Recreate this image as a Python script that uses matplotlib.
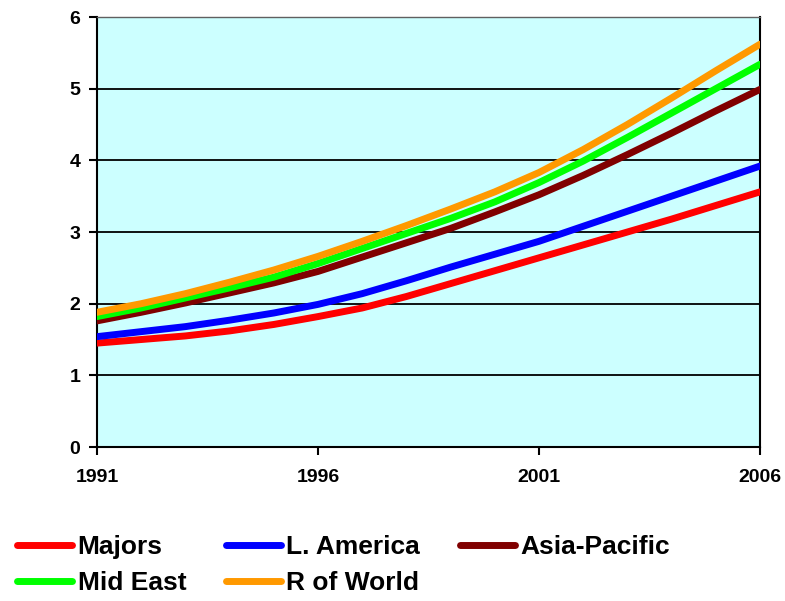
import matplotlib.pyplot as plt

plt.rcParams['font.family'] = ['Liberation Sans', 'DejaVu Sans']
plt.rcParams['font.weight'] = 'bold'

years = list(range(1991, 2007))

majors = [1.45, 1.50, 1.55, 1.62, 1.71, 1.82, 1.94, 2.10, 2.28, 2.46, 2.64, 2.82, 3.00, 3.18, 3.37, 3.56]
l_america = [1.54, 1.61, 1.68, 1.77, 1.87, 1.99, 2.14, 2.32, 2.51, 2.69, 2.87, 3.08, 3.29, 3.50, 3.71, 3.92]
asia_pacific = [1.76, 1.88, 2.01, 2.15, 2.29, 2.45, 2.65, 2.85, 3.05, 3.28, 3.52, 3.79, 4.08, 4.38, 4.69, 4.99]
mid_east = [1.82, 1.94, 2.08, 2.22, 2.37, 2.56, 2.77, 2.98, 3.19, 3.42, 3.69, 3.99, 4.32, 4.66, 5.00, 5.34]
r_of_world = [1.88, 2.00, 2.14, 2.30, 2.47, 2.66, 2.87, 3.09, 3.32, 3.56, 3.83, 4.15, 4.50, 4.87, 5.25, 5.62]

series = [
    ('Majors', majors, '#FF0000'),
    ('L. America', l_america, '#0000FF'),
    ('Asia-Pacific', asia_pacific, '#800000'),
    ('Mid East', mid_east, '#00FF00'),
    ('R of World', r_of_world, '#FF9900'),
]

fig = plt.figure(figsize=(7.85, 6.01), dpi=100)
ax = fig.add_axes([0.1236, 0.2562, 0.8445, 0.7155])
ax.set_facecolor('#CCFFFF')

lines = {}
for label, vals, color in series:
    lines[label], = ax.plot(years, vals, color=color, lw=5, label=label,
                            solid_capstyle='round', solid_joinstyle='round', zorder=3)

ax.set_xlim(1991, 2006)
ax.set_ylim(0, 6)
ax.set_xticks([1991, 1996, 2001, 2006])
ax.set_yticks(range(0, 7))
ax.yaxis.grid(True, color='black', lw=1.3)
ax.set_axisbelow(True)
ax.tick_params(axis='both', direction='out', length=6, width=1.5, labelsize=14, color='black')
ax.tick_params(axis='x', pad=10)
ax.tick_params(axis='y', pad=6)
for lab in ax.get_xticklabels() + ax.get_yticklabels():
    lab.set_fontweight('bold')
for s in ax.spines.values():
    s.set_color('black')
    s.set_linewidth(1.5)
ax.spines['top'].set_color('#606060')
ax.spines['top'].set_linewidth(1.0)

# legend is filled column by column, so order for row-wise reading
order = ['Majors', 'Mid East', 'L. America', 'R of World', 'Asia-Pacific']
fig.legend([lines[k] for k in order], order, loc='upper left',
           bbox_to_anchor=(0.008, 0.127), ncol=3, frameon=False,
           prop={'size': 19, 'weight': 'bold'}, handlelength=2.1, handletextpad=0.2,
           columnspacing=1.5, labelspacing=0.45, borderaxespad=0)

fig.savefig('out.png', dpi=100)
